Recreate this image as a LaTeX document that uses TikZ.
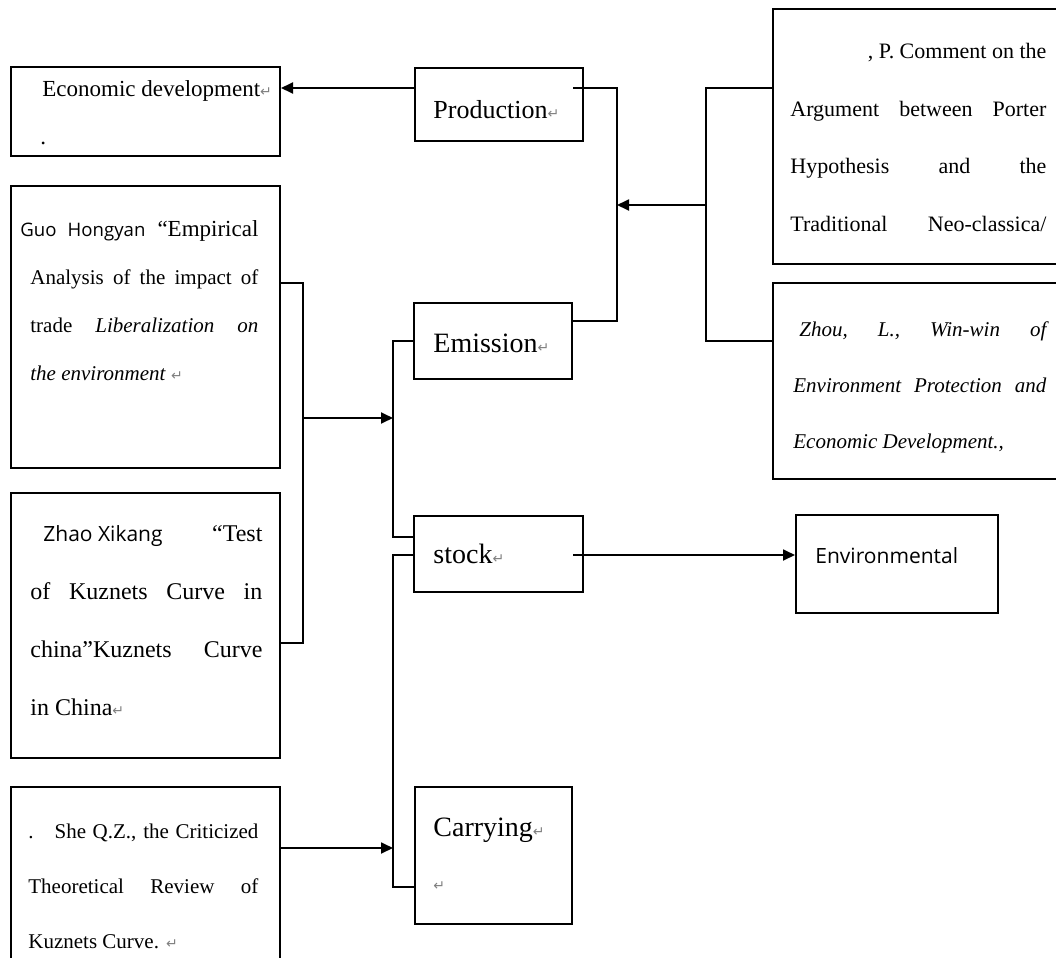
\documentclass[tikz,border=0pt]{standalone}
\usepackage{fontspec}
\setmainfont{Liberation Serif}
\setsansfont{Open Sans}
\newfontfamily\symfont{DejaVu Sans}
\usepackage{tikz}
\usetikzlibrary{arrows.meta}
\newcommand{\retmark}{{\symfont\color{gray}\fontsize{7}{7}\selectfont ↵}}
\tolerance=10000
\hbadness=10000

\begin{document}
\begin{tikzpicture}[x=0.5pt, y=-0.5pt]
    \tikzstyle{refbox} = [rectangle, draw, line width=1pt, inner sep=0pt]
    \tikzstyle{txt} = [anchor=base west, inner sep=0pt, align=justify]
    \tikzstyle{lbl} = [anchor=base west, inner sep=0pt, align=left]
    \tikzstyle{link} = [line width=0.9pt]
    \tikzstyle{arrow} = [line width=0.9pt, -{Triangle[length=6pt, width=5.5pt]}]

    \useasboundingbox (0,0) rectangle (1056,958);
    \clip (0,0) rectangle (1056,958);

    % Boxes in the middle column
    \node [refbox, minimum width=84pt, minimum height=36.5pt] (prod) at (499,104.5) {};
    \node [refbox, minimum width=79pt, minimum height=38pt] (emis) at (493,341) {};
    \node [refbox, minimum width=84.5pt, minimum height=38pt] (stock) at (498.5,554) {};
    \node [refbox, minimum width=78.5pt, minimum height=68.5pt] (carry) at (493.5,855.5) {};

    % Boxes on the left
    \node [refbox, minimum width=134.5pt, minimum height=44.5pt] (econ) at (145.5,111.5) {};
    \node [refbox, minimum width=134.5pt, minimum height=141pt] (guo) at (145.5,327) {};
    \node [refbox, minimum width=134.5pt, minimum height=132.5pt] (zhao) at (145.5,625.5) {};
    \node [refbox, minimum width=134.5pt, minimum height=90.5pt] (she) at (145.5,877.5) {};

    % Boxes on the right
    \node [refbox, minimum width=144.5pt, minimum height=127.5pt] (porter) at (917.5,136.5) {};
    \node [refbox, minimum width=144.5pt, minimum height=98pt] (zhou) at (917.5,381) {};
    \node [refbox, minimum width=101pt, minimum height=49pt] (env) at (897,564) {};

    % Texts
    \node [lbl, font=\fontsize{13}{13}\selectfont] (prod-t) at (433,118) {Production\retmark};
    \node [lbl, font=\fontsize{14}{14}\selectfont] (emis-t) at (433,352) {Emission\retmark};
    \node [lbl, font=\fontsize{14}{14}\selectfont] (stock-t) at (433,563) {stock\retmark};
    \node [txt, text width=60pt, font=\fontsize{14}{27}\selectfont] (carry-t) at (433,836) {Carrying\retmark\par\retmark};
    \node [lbl, font=\sffamily\fontsize{10.5}{12}\selectfont] (env-t) at (815,563) {Environmental};
    \node [txt, text width=115pt, font=\fontsize{11.5}{24.5}\selectfont] (econ-t) at (42,96) {Economic development\retmark\par\hspace*{-1pt}.};

    \node [txt, text width=119pt, font=\fontsize{10.5}{24}\selectfont] (guo-t) at (20,236)
        {{\sffamily\fontsize{9.3}{24}\selectfont Guo Hongyan} {\fontsize{11.5}{24}\selectfont “Empirical}\linebreak
        \hspace*{5pt}Analysis of the impact of\linebreak
        \hspace*{5pt}trade \textit{Liberalization on}\linebreak
        \hspace*{5pt}\textit{the environment} \retmark};
    \node [txt, text width=116pt, font=\fontsize{12}{29}\selectfont] (zhao-t) at (30,541)
        {\hspace*{6.5pt}{\sffamily\fontsize{10.5}{29}\selectfont Zhao Xikang}\hfill“Test\linebreak
        of Kuznets Curve in\linebreak
        china”Kuznets Curve\linebreak
        in China\retmark};
    \node [txt, text width=115pt, font=\fontsize{10.5}{27.5}\selectfont] (she-t) at (28,838)
        {.\hspace{1em}She Q.Z., the Criticized\linebreak
        Theoretical Review of\linebreak
        Kuznets Curve. \retmark};
    \node [txt, text width=128pt, font=\fontsize{11}{29}\selectfont] (porter-t) at (790,58)
        {\hfill, P. Comment on the\linebreak
        Argument between Porter\linebreak
        Hypothesis and the\linebreak
        Traditional\hfill Neo-classica/};
    \node [txt, text width=126.5pt, font=\itshape\fontsize{10.5}{28}\selectfont] (zhou-t) at (793,336)
        {\hspace*{3pt}Zhou,\hfill L.,\hfill Win-win\hfill of\linebreak
        Environment Protection and\linebreak
        Economic Development.,};

    % Joints of the connectors
    \coordinate (y88) at (0,88);
    \coordinate (y283) at (0,283);
    \coordinate (y321) at (0,321);
    \coordinate (y537) at (0,537);
    \coordinate (y555) at (0,555);
    \coordinate (y643) at (0,643);
    \coordinate (y887) at (0,887);
    \coordinate (pjoin) at (617,205);
    \coordinate (rjoin) at (706,205);
    \coordinate (ljoin) at (303,418);
    \coordinate (mjoin) at (393,418);
    \coordinate (cjoin) at (393,848);

    % Connectors
    \draw [arrow] (prod.west |- y88) -- (econ.east |- y88);
    \draw [link] ([xshift=-5.5pt]prod.east |- y88) -| (pjoin) |- (emis.east |- y321);
    \draw [link] (porter.west |- y88) -| (rjoin) |- (zhou.west |- emis.west);
    \draw [arrow] (rjoin) -- (pjoin);
    \draw [link] (guo.east |- y283) -| (ljoin) |- (zhao.east |- y643);
    \draw [arrow] (ljoin) -- (mjoin);
    \draw [link] (emis.west) -| (mjoin) |- (stock.west |- y537);
    \draw [link] (stock.west |- y555) -| (cjoin) |- (carry.west |- y887);
    \draw [arrow] (she.east |- cjoin) -- (cjoin);
    \draw [arrow] ([xshift=-5.5pt]stock.east |- y555) -- (env.west |- y555);
\end{tikzpicture}
\end{document}
